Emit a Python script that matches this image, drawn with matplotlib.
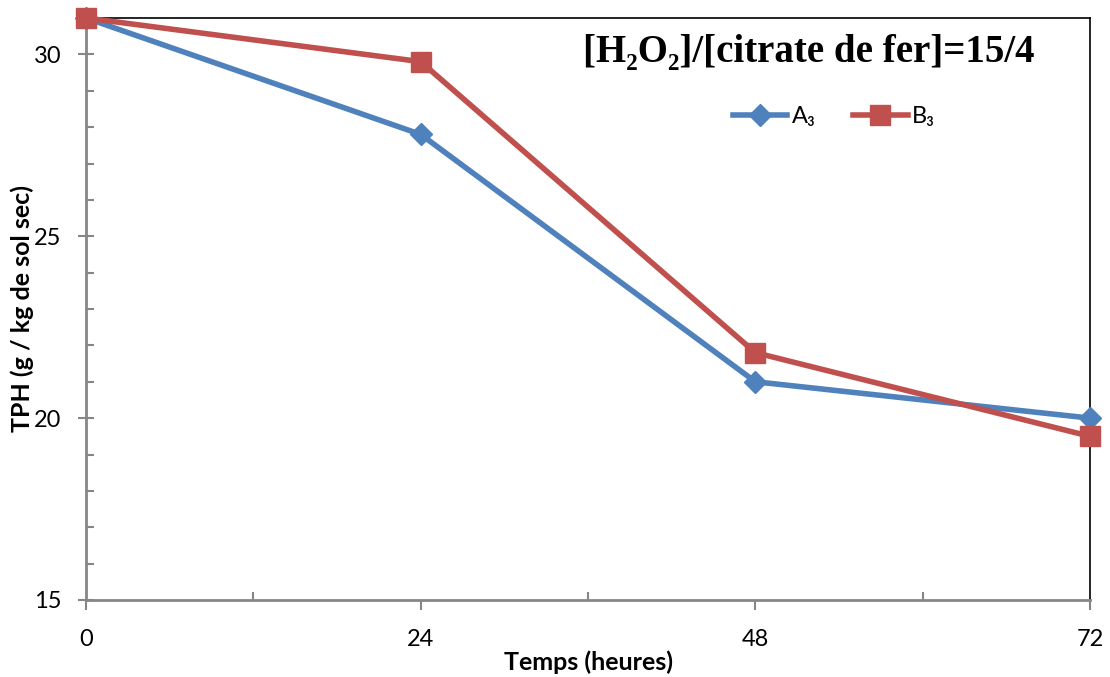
import matplotlib
matplotlib.use('Agg')
import matplotlib.pyplot as plt
from matplotlib.ticker import MultipleLocator

plt.rcParams['font.family'] = ['Lato', 'DejaVu Sans']

# TPH over time for the two treatments
hours = [0, 24, 48, 72]
tph_a3 = [31.0, 27.8, 21.0, 20.0]
tph_b3 = [31.0, 29.8, 21.8, 19.5]

blue = '#4F81BD'
red = '#C0504D'

fig = plt.figure(figsize=(11.1, 6.77), dpi=100)
ax = fig.add_axes([86 / 1110, 77 / 677, 1004 / 1110, 582 / 677])

ax.plot(hours, tph_a3, color=blue, linewidth=4, marker='D', markersize=11,
        label='A₃', clip_on=False, zorder=3)
ax.plot(hours, tph_b3, color=red, linewidth=4, marker='s', markersize=14,
        label='B₃', clip_on=False, zorder=3)

ax.set_xlim(0, 72)
ax.set_ylim(15, 31)
ax.xaxis.set_major_locator(MultipleLocator(24))
ax.xaxis.set_minor_locator(MultipleLocator(12))
ax.yaxis.set_major_locator(MultipleLocator(5))
ax.yaxis.set_minor_locator(MultipleLocator(1))

for side in ['left', 'bottom']:
    ax.spines[side].set_color('#868686')
    ax.spines[side].set_linewidth(2)
for side in ['top', 'right']:
    ax.spines[side].set_color('black')
    ax.spines[side].set_linewidth(1.2)

ax.tick_params(axis='both', which='major', color='#868686', width=1.5,
               labelsize=17)
ax.tick_params(axis='y', which='major', direction='inout', length=11, pad=12)
ax.tick_params(axis='x', which='major', direction='out', length=7, pad=14)
ax.tick_params(axis='both', which='minor', direction='in', length=6,
               color='#868686', width=1.5)

ax.set_xlabel('Temps (heures)', fontsize=18, fontweight='bold', labelpad=0)
ax.set_ylabel('TPH (g / kg de sol sec)', fontsize=18, fontweight='bold',
              labelpad=0)

ax.text(0.72, 0.94, '[H₂O₂]/[citrate de fer]=15/4', transform=ax.transAxes,
        ha='center', va='center', fontsize=28, fontweight='bold',
        family=['Liberation Serif', 'DejaVu Serif'])

ax.legend(loc='center', bbox_to_anchor=(0.745, 0.83), ncol=2, frameon=False,
          fontsize=17, handlelength=2.3, columnspacing=1.6, handletextpad=0.2)

fig.savefig('out.png', dpi=100)
